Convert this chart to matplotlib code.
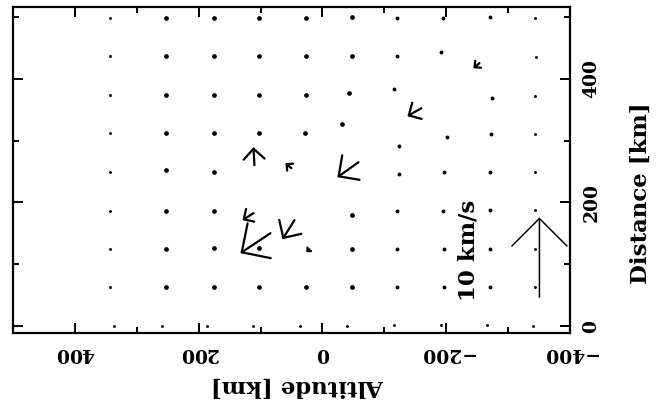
import matplotlib
matplotlib.use("Agg")
import matplotlib.pyplot as plt
from matplotlib.patches import ArrowStyle
import numpy as np

# ---------------- data ----------------
# positions (altitude, distance) in km of points whose velocity is ~0 (drawn as dots)
dot_alt = [342.5, 252, 176, 103, 26, -47, -121, -195.5, -271, -344,
           342.5, 252, 176, 103, 26, -47, -121, -192, -345.7,
           342.5, 252, 176, 103, 26, -43.6, -116, -274.6, -344,
           342.5, 252, 176, 103, 27.5, -32, -123, -202, -273, -344,
           342.5, 252, 176, -123, -197, -271, -344,
           342.5, 252, 176, -48.5, -121, -195.5, -271, -344,
           342.5, 252, 176, 103, -47, -121, -197, -271, -344,
           342.5, 252, 176, 103, 26, -47, -121, -197, -271, -344,
           336, 260, 186, 111.5, 35.5, -40, -115, -191, -266.5, -341]
dot_dist = [498, 498, 498, 498, 498, 499.5, 498, 498, 499.5, 498,
            436.5, 436.5, 436.5, 436.5, 436.5, 436.5, 436.5, 443, 435,
            373, 373, 373, 373, 373, 376.6, 383, 368.6, 372,
            312, 312, 312, 312, 312, 326.5, 291, 305.5, 310, 310,
            249, 252, 249, 245.7, 249, 249, 249,
            186, 186, 186, 179.4, 186, 186, 187.5, 187.5,
            124.5, 124.5, 126, 126, 124.5, 124.5, 124.5, 124.5, 124.5,
            63, 63, 63, 63, 63, 63, 63, 63, 63, 63,
            0, 0, 0, 0, 0, 0, 1.6, 1.6, 1.6, 0]

# velocity vectors: tail position (km) and velocity components (km/s)
vec_alt = [109.9, 50.1, -58.2, 111.5, 84.0, -159.9, -253.6, 21.0, 45.2]
vec_dist = [260.3, 255.4, 265.1, 182.7, 150.3, 352.4, 425.2, 124.5, 171.4]
vec_valt = [0.12, 0.75, 2.64, 1.37, 3.76, 1.75, 0.75, 0.37, 1.50]
vec_vdist = [2.26, 0.63, -1.88, -0.88, -2.50, -1.00, -0.63, -0.38, -2.39]

# reference vector
ref_speed = 10.0          # km/s
ref_alt, ref_dist = -350.6, 46.9
ref_label = "10 km/s"
ref_label_alt, ref_label_dist = -236.0, 123.0

km_per_kms = 12.9         # plotted length (km) of 1 km/s

x_major = [400, 200, 0, -200, -400]
x_minor = [500, 300, 100, -100, -300]
y_major = [0, 200, 400]
y_minor = [100, 300, 500]
x_limits = (500, -400)
y_limits = (-11, 516)
x_label = "Altitude [km]"
y_label = "Distance [km]"

# ---------------- figure ----------------
plt.rcParams["font.family"] = ["DejaVu Serif"]
plt.rcParams["font.weight"] = "bold"

fig = plt.figure(figsize=(6.66, 4.15), dpi=100)
ax = fig.add_axes([13 / 666, 82 / 415, 557 / 666, 326 / 415])
ax.set_xlim(*x_limits)
ax.set_ylim(*y_limits)

for s in ax.spines.values():
    s.set_linewidth(1.6)

ax.set_xticks(x_major)
ax.set_xticks(x_minor, minor=True)
ax.set_yticks(y_major)
ax.set_yticks(y_minor, minor=True)
ax.tick_params(which="both", direction="in", top=True, bottom=True,
               left=True, right=True, width=1.4)
ax.tick_params(which="major", length=7.2)
ax.tick_params(which="minor", length=4.3)
ax.tick_params(axis="x", labelrotation=180, labelsize=13.5, pad=8)
ax.tick_params(axis="y", labelleft=False, labelright=True,
               labelrotation=90, labelsize=13.5, pad=9)
for t in ax.get_yticklabels():
    t.set_va("center")

ax.set_xlabel(x_label, fontsize=16.5, fontweight="bold", rotation=180)
ax.xaxis.label.set_va("center")
ax.xaxis.set_label_coords(0.51, -0.162)
ax.yaxis.set_label_position("right")
ax.set_ylabel(y_label, fontsize=16.5, fontweight="bold", rotation=90)
ax.yaxis.label.set_va("center")
ax.yaxis.label.set_ha("center")
ax.yaxis.set_label_coords(1.127, 0.43)

# dots
da = np.array(dot_alt)
dd = np.array(dot_dist)
small = (dd < 20) | (da > 300) | (da < -330)
large = (~small) & (da > -60) & (da < 270)
medium = ~(small | large)
ax.plot(da[large], dd[large], "o", color="black", ms=3.4, mew=0)
ax.plot(da[medium], dd[medium], "o", color="black", ms=2.8, mew=0)
ax.plot(da[small], dd[small], "o", color="black", ms=2.1, mew=0)


def draw_vector(a, d, va, vd, head_frac, lw):
    a2 = a + va * km_per_kms
    d2 = d + vd * km_per_kms
    p1 = ax.transData.transform((a, d))
    p2 = ax.transData.transform((a2, d2))
    L_pt = np.hypot(*(p2 - p1)) * 72.0 / fig.dpi
    h = head_frac * L_pt
    style = ArrowStyle("->", head_length=h, head_width=h)
    ax.annotate("", xy=(a2, d2), xytext=(a, d),
                arrowprops=dict(arrowstyle=style, mutation_scale=1,
                                lw=lw, color="black",
                                shrinkA=0, shrinkB=0))


for a, d, va, vd in zip(vec_alt, vec_dist, vec_valt, vec_vdist):
    draw_vector(a, d, va, vd, 0.58, 1.6)

draw_vector(ref_alt, ref_dist, 0.0, ref_speed, 0.345, 1.1)
ax.text(ref_label_alt, ref_label_dist, ref_label, rotation=90,
        ha="center", va="center", fontsize=16.5, fontweight="bold")

fig.savefig("out.png", dpi=100)
